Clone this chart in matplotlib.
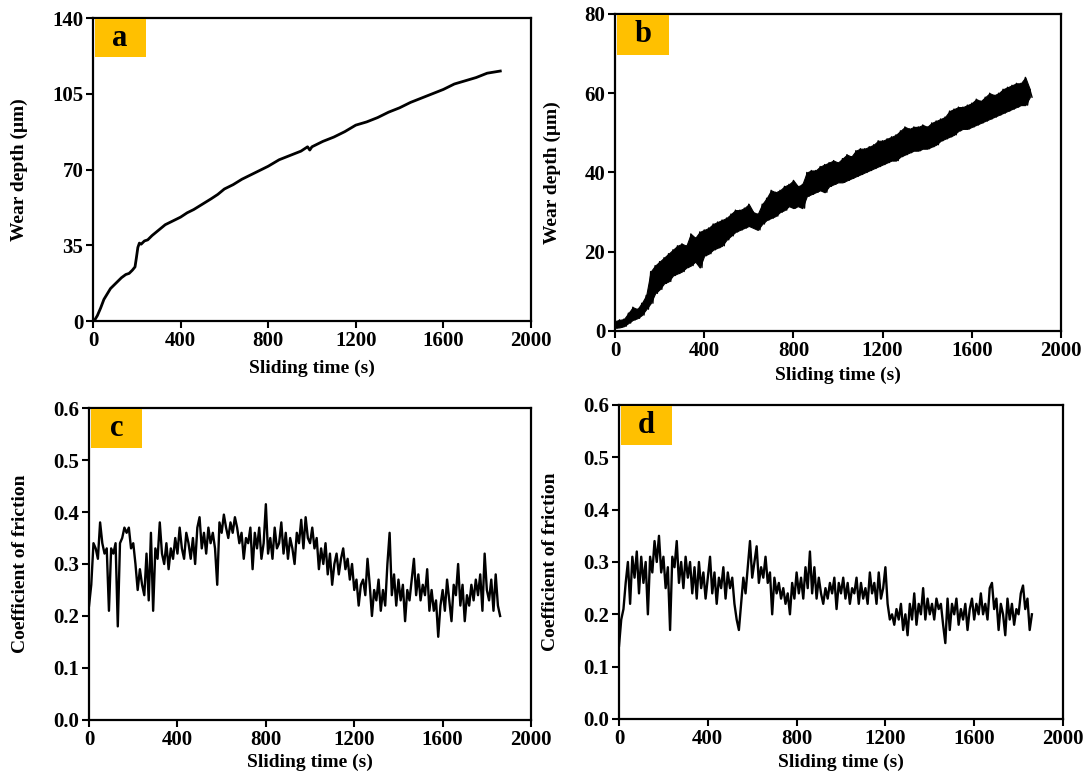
import numpy as np
import matplotlib
matplotlib.use("Agg")
import matplotlib.pyplot as plt
from matplotlib.patches import Rectangle

plt.rcParams['font.family'] = ['Liberation Serif', 'DejaVu Serif']
plt.rcParams['font.weight'] = 'bold'

# (a) wear depth, sample 1
a_time = [0, 10, 20, 35, 50, 65, 80, 100, 115, 130, 150, 165, 180, 192, 198, 205, 212, 220, 235, 250,
          270, 300, 330, 360, 400, 430, 460, 500, 540, 570, 600, 640, 680, 720, 760, 800, 850, 900,
          950, 980, 990, 1000, 1050, 1100, 1150, 1200, 1250, 1300, 1350, 1400, 1450, 1500, 1550,
          1600, 1650, 1700, 1750, 1800, 1830, 1860]
a_depth = [0, 0.8, 2.5, 6, 10, 12.5, 15, 17, 18.5, 20, 21.5, 22, 23.5, 25, 29, 34, 36, 35.5, 37, 37.5,
           39.5, 42, 44.5, 46, 48, 50, 51.5, 54, 56.5, 58.5, 61, 63, 65.5, 67.5, 69.5, 71.5, 74.5, 76.5,
           78.5, 80.5, 79, 80.5, 83, 85, 87.5, 90.5, 92, 94, 96.5, 98.5, 101, 103, 105,
           107, 109.5, 111, 112.5, 114.5, 115, 115.5]

# (b) wear depth, sample 2 (upper / lower envelope of the noisy signal, every 20 s)
b_upper = [2.5, 2.8, 3, 4.5, 6, 5.5, 7, 9, 15, 16.5, 17.5, 18.5, 19.5, 20.5, 21.5, 22, 21.5, 24.5,
           23.5, 25, 25.5, 26, 27, 27.5, 28, 28.5, 29.5, 30.5, 30.5, 31, 32, 30, 29.5, 32, 33.5,
           35.5, 35, 35.5, 36.5, 37, 38, 36.5, 37, 40, 40.5, 40.5, 41.5, 42, 42.5, 43, 42.5, 43.5,
           44.5, 44, 45.5, 46, 46, 46.5, 47, 48, 48, 48.5, 49, 49.5, 50.5, 51.5, 51, 51.5, 51.5,
           52, 51.5, 52.5, 53, 53.5, 54, 55.5, 56, 56.5, 56.5, 57, 57.5, 58.5, 58, 59, 60, 59.5,
           60, 61, 61.5, 62, 62.5, 62.5, 64, 61]
b_lower = [0.8, 0.9, 1.2, 2, 2.8, 3.2, 4, 5.5, 7, 9.5, 10.5, 12, 12.5, 14, 14.5, 15, 16, 16.5,
           17.5, 16, 19, 19.5, 20.5, 21, 21.5, 23, 24, 25, 25.5, 26, 26.5, 26, 25.5, 27, 28,
           28.5, 29, 30, 30.5, 31.5, 31, 31.5, 31, 34, 34.5, 35, 35.5, 35, 36.5, 37, 37.5, 37.5,
           38, 38.5, 39, 39.5, 40, 40.5, 41, 41.5, 42, 42.5, 43, 43, 44, 44.5, 45, 45.5, 45.5,
           46, 46, 46.5, 47, 48, 48.5, 49, 49.5, 50.5, 51, 51, 51.5, 52, 52.5, 53, 53.5, 54,
           54.5, 55, 55.5, 56, 56.5, 57, 57, 59]
b_env_time = np.arange(0, 20 * len(b_upper), 20)
b_time = np.arange(0, 10 * 2 * len(b_upper), 10)

# (c) coefficient of friction, sample 1 (every 10 s)
c_time = np.arange(0, 1870, 10)
c_cof = [0.22, 0.26, 0.34, 0.33, 0.31, 0.38, 0.34, 0.32, 0.33, 0.21, 0.33, 0.32, 0.34, 0.18, 0.34,
         0.35, 0.37, 0.36, 0.37, 0.33, 0.34, 0.30, 0.25, 0.29, 0.26, 0.24, 0.32, 0.23, 0.36, 0.21,
         0.33, 0.31, 0.38, 0.32, 0.30, 0.34, 0.29, 0.33, 0.31, 0.35, 0.32, 0.37, 0.33, 0.31, 0.36,
         0.34, 0.31, 0.35, 0.30, 0.37, 0.39, 0.33, 0.36, 0.32, 0.37, 0.34, 0.36, 0.33, 0.26, 0.38,
         0.36, 0.395, 0.37, 0.35, 0.38, 0.36, 0.39, 0.37, 0.34, 0.36, 0.31, 0.35, 0.34, 0.37, 0.29,
         0.36, 0.33, 0.37, 0.31, 0.34, 0.415, 0.32, 0.35, 0.31, 0.37, 0.33, 0.34, 0.38, 0.32, 0.36,
         0.31, 0.35, 0.33, 0.30, 0.36, 0.34, 0.385, 0.33, 0.39, 0.35, 0.34, 0.37, 0.33, 0.35, 0.29,
         0.33, 0.30, 0.34, 0.28, 0.32, 0.26, 0.30, 0.32, 0.28, 0.31, 0.33, 0.29, 0.31, 0.27, 0.30,
         0.25, 0.27, 0.22, 0.26, 0.27, 0.24, 0.31, 0.26, 0.20, 0.25, 0.23, 0.27, 0.21, 0.25, 0.22,
         0.30, 0.36, 0.24, 0.28, 0.22, 0.27, 0.23, 0.26, 0.19, 0.25, 0.23, 0.27, 0.31, 0.24, 0.28,
         0.23, 0.26, 0.24, 0.29, 0.21, 0.25, 0.21, 0.23, 0.16, 0.22, 0.25, 0.21, 0.27, 0.23, 0.19,
         0.26, 0.24, 0.30, 0.22, 0.26, 0.19, 0.24, 0.22, 0.26, 0.23, 0.27, 0.24, 0.28, 0.21, 0.32,
         0.25, 0.23, 0.27, 0.21, 0.28, 0.22, 0.20]

# (d) coefficient of friction, sample 2 (every 10 s)
d_time = np.arange(0, 1870, 10)
d_cof = [0.14, 0.19, 0.21, 0.26, 0.30, 0.22, 0.31, 0.27, 0.32, 0.24, 0.31, 0.26, 0.30, 0.20, 0.31,
         0.28, 0.34, 0.30, 0.35, 0.28, 0.31, 0.25, 0.29, 0.17, 0.31, 0.29, 0.34, 0.26, 0.30, 0.25,
         0.31, 0.27, 0.30, 0.24, 0.29, 0.23, 0.30, 0.25, 0.28, 0.23, 0.27, 0.31, 0.24, 0.28, 0.22,
         0.27, 0.25, 0.29, 0.23, 0.28, 0.25, 0.27, 0.22, 0.19, 0.17, 0.22, 0.27, 0.24, 0.29, 0.34,
         0.27, 0.30, 0.33, 0.26, 0.29, 0.27, 0.31, 0.26, 0.28, 0.20, 0.27, 0.24, 0.26, 0.23, 0.25,
         0.22, 0.24, 0.20, 0.26, 0.23, 0.28, 0.24, 0.27, 0.23, 0.29, 0.25, 0.32, 0.24, 0.29, 0.23,
         0.27, 0.24, 0.22, 0.25, 0.23, 0.26, 0.24, 0.27, 0.21, 0.26, 0.24, 0.27, 0.23, 0.26, 0.22,
         0.25, 0.24, 0.27, 0.22, 0.26, 0.23, 0.25, 0.22, 0.28, 0.24, 0.26, 0.22, 0.28, 0.23, 0.25,
         0.29, 0.22, 0.19, 0.20, 0.18, 0.21, 0.19, 0.22, 0.17, 0.20, 0.16, 0.22, 0.19, 0.24, 0.18,
         0.22, 0.20, 0.25, 0.19, 0.23, 0.20, 0.22, 0.19, 0.23, 0.21, 0.22, 0.18, 0.145, 0.23, 0.17,
         0.22, 0.20, 0.23, 0.18, 0.21, 0.19, 0.22, 0.17, 0.21, 0.23, 0.19, 0.22, 0.20, 0.24, 0.20,
         0.22, 0.19, 0.25, 0.26, 0.21, 0.23, 0.17, 0.22, 0.20, 0.16, 0.23, 0.19, 0.22, 0.18, 0.21,
         0.20, 0.24, 0.255, 0.21, 0.23, 0.17, 0.20]

# zigzag between the two envelopes of (b)
b_depth = np.empty(2 * len(b_upper))
b_depth[0::2] = b_upper
b_depth[1::2] = b_lower

fig = plt.figure(figsize=(10.86, 7.76), dpi=100)

# axes positions [left, bottom, width, height] in figure fractions
ax_a = fig.add_axes([0.0856, 0.5863, 0.4033, 0.3905])
ax_b = fig.add_axes([0.5663, 0.5735, 0.4107, 0.4085])
ax_c = fig.add_axes([0.0820, 0.0722, 0.4070, 0.4020])
ax_d = fig.add_axes([0.5700, 0.0735, 0.4088, 0.4046])

ax_a.plot(a_time, a_depth, color='black', lw=2.0)
ax_b.fill_between(b_env_time, b_lower, b_upper, color='black', lw=0.8)
ax_b.plot(b_time, b_depth, color='black', lw=1.0)
ax_c.plot(c_time, c_cof, color='black', lw=1.7)
ax_d.plot(d_time, d_cof, color='black', lw=1.7)

ax_a.set_ylim(0, 140)
ax_a.set_yticks([0, 35, 70, 105, 140])
ax_b.set_ylim(0, 80)
ax_b.set_yticks([0, 20, 40, 60, 80])
for ax in (ax_c, ax_d):
    ax.set_ylim(0, 0.6)
    ax.set_yticks(np.arange(0, 0.61, 0.1))
    ax.set_yticklabels([f"{v:.1f}" for v in np.arange(0, 0.61, 0.1)])

panels = [(ax_a, 'a', 'Wear depth (\u03bcm)', -0.148, -0.129),
          (ax_b, 'b', 'Wear depth (\u03bcm)', -0.121, -0.114),
          (ax_c, 'c', 'Coefficient of friction', -0.136, -0.109),
          (ax_d, 'd', 'Coefficient of friction', -0.135, -0.111)]

for ax, letter, ylab, ylx, xly in panels:
    ax.set_xlim(0, 2000)
    ax.set_xticks([0, 400, 800, 1200, 1600, 2000])
    for s in ax.spines.values():
        s.set_linewidth(1.6)
    ax.tick_params(direction='out', length=5, width=1.5, labelsize=15, pad=2)
    for lab in ax.get_xticklabels() + ax.get_yticklabels():
        lab.set_fontweight('bold')
    ax.set_xlabel('Sliding time (s)', fontsize=14, fontweight='bold')
    ax.set_ylabel(ylab, fontsize=14, fontweight='bold')
    ax.xaxis.set_label_coords(0.5, xly)
    ax.yaxis.set_label_coords(ylx, 0.5)
    # orange panel tag
    ax.add_patch(Rectangle((0.004, 0.872), 0.116, 0.124, transform=ax.transAxes,
                           facecolor='#FFC000', edgecolor='none', zorder=5))
    ax.text(0.062, 0.934, letter, transform=ax.transAxes, ha='center', va='center',
            fontsize=22, fontweight='bold', zorder=6)

fig.savefig('out.png', dpi=100)
